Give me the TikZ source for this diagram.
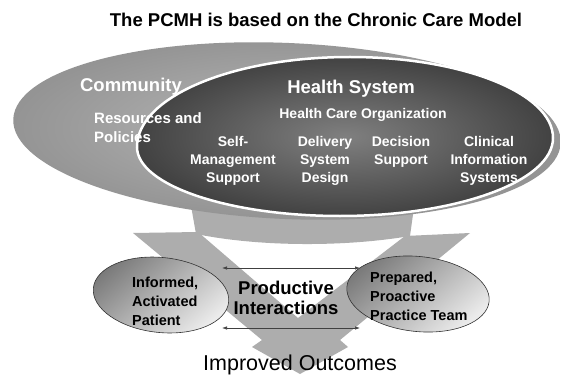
\documentclass[tikz,border=0pt]{standalone}
\usepackage{fontspec}
\setmainfont{Liberation Sans}
\usetikzlibrary{shapes.geometric,arrows.meta}
\newcommand\fsz[2]{\fontsize{#1}{#2}\selectfont}
\begin{document}
\begin{tikzpicture}[x=1pt,y=-1pt,
  bandc/.style={fill=black!32},
  wtxt/.style={text=white, inner sep=0pt, align=center},
  btxt/.style={text=black, inner sep=0pt},
  smallell/.style={ellipse, draw=black!80, line width=0.6pt, inner sep=0pt,
     top color=black!52, bottom color=black!8, shading angle=40},
  dblarrow/.style={{Latex[length=5pt,width=3.5pt]}-{Latex[length=5pt,width=3.5pt]}, line width=0.7pt, draw=black!75}]
\useasboundingbox (0,0) rectangle (561,374);
\clip (0,0) rectangle (561,374);
\fill[white] (0,0) rectangle (561,374);

% funnel of the two arrows
\fill[bandc] (133,233) -- (262,340) -- (252,347) -- (300,374) -- (348,347) -- (340,340)
  -- (470,233) -- (405,236) -- (298,318) -- (198,232) -- cycle;
\fill[bandc] (190,200) -- (196,234) .. controls (260,247) and (345,247) .. (410,236) -- (415,200) -- cycle;

% outer ellipse: community
\shade[rotate around={-2.5:(287,131)}, inner color=black!28, outer color=black!42]
  (287,131) ellipse [x radius=274pt, y radius=88pt];

% inner ellipse: health system
\path[draw=white, line width=2.5pt, inner color=black!50, outer color=black!74]
  (137,147) .. controls (137,97) and (232,57) .. (350,57)
  .. controls (462,57) and (553,93) .. (553,138)
  .. controls (553,181) and (458,216) .. (340,216)
  .. controls (228,216) and (137,185) .. cycle;

% texts in ellipses
\node[btxt, font={\fsz{18.5}{22}\bfseries}] (title) at (316,20) {The PCMH is based on the Chronic Care Model};
\node[wtxt, font={\fsz{18.5}{22}\bfseries}] (comm) at (131,87) {Community};
\node[wtxt, font={\fsz{18.5}{22}\bfseries}] (hs) at (351,89) {Health System};
\node[wtxt, align=left, anchor=west, font={\fsz{15}{19}\bfseries}] (res) at (94,128) {Resources and\\Policies};
\node[wtxt, font={\fsz{14}{18}\bfseries}] (hco) at (363,115) {Health Care Organization};
\node[wtxt, font={\fsz{14}{18}\bfseries}] (sms) at (233,161) {Self-\\Management\\Support};
\node[wtxt, font={\fsz{14}{18}\bfseries}] (dsd) at (325,161) {Delivery\\System\\Design};
\node[wtxt, font={\fsz{14}{18}\bfseries}] (ds) at (401,152) {Decision\\Support};
\node[wtxt, font={\fsz{14}{18}\bfseries}] (cis) at (489,161) {Clinical\\Information\\Systems};

% small ellipses
\node[smallell, minimum width=136pt, minimum height=75pt, rotate=-6] (pat) at (161,295) {};
\node[smallell, minimum width=143pt, minimum height=75pt, rotate=-6] (team) at (418,294) {};
\node[btxt, align=left, anchor=west, font={\fsz{14.5}{19}\bfseries}] (patt) at (132,301) {Informed,\\Activated\\Patient};
\node[btxt, align=left, anchor=west, font={\fsz{14.5}{19}\bfseries}] (teamt) at (370,296) {Prepared,\\Proactive\\Practice Team};

% productive interactions
\coordinate (a1) at (222,268);
\coordinate (a2) at (360,268);
\coordinate (b1) at (222,328);
\coordinate (b2) at (360,328);
\draw[dblarrow] (a1) -- (a2);
\draw[dblarrow] (b1) -- (b2);
\node[btxt, align=center, font={\fsz{18.5}{19.5}\bfseries}] (pi) at (286,298) {Productive\\Interactions};

\node[btxt, anchor=base, font={\fsz{21.5}{24}}] (out) at (300,370) {Improved Outcomes};
\end{tikzpicture}
\end{document}
